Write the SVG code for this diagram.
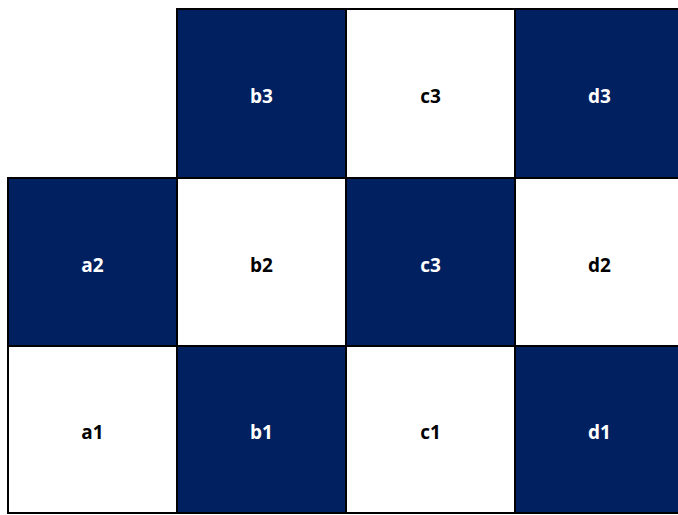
<svg xmlns="http://www.w3.org/2000/svg" width="678" height="515" viewBox="0 0 678 515">
<style>
.d{fill:#002060;stroke:#000;stroke-width:2}
.w{fill:#fff;stroke:#000;stroke-width:2}
.tw{fill:#fff;font-family:"Open Sans","DejaVu Sans",sans-serif;font-weight:bold;font-size:19px;text-anchor:middle}
.tb{fill:#000;font-family:"Open Sans","DejaVu Sans",sans-serif;font-weight:bold;font-size:19px;text-anchor:middle}
</style>
<rect width="678" height="515" fill="#fff"/>
<g id="b3"><rect class="d" x="177" y="9" width="169" height="169"/><text class="tw" x="261.5" y="103">b3</text></g>
<g id="c3top"><rect class="w" x="346" y="9" width="169" height="169"/><text class="tb" x="430.5" y="103">c3</text></g>
<g id="d3"><rect class="d" x="515" y="9" width="169" height="169"/><text class="tw" x="599.5" y="103">d3</text></g>
<g id="a2"><rect class="d" x="8" y="178" width="169" height="168"/><text class="tw" x="92.5" y="272">a2</text></g>
<g id="b2"><rect class="w" x="177" y="178" width="169" height="168"/><text class="tb" x="261.5" y="272">b2</text></g>
<g id="c3"><rect class="d" x="346" y="178" width="169" height="168"/><text class="tw" x="430.5" y="272">c3</text></g>
<g id="d2"><rect class="w" x="515" y="178" width="169" height="168"/><text class="tb" x="599.5" y="272">d2</text></g>
<g id="a1"><rect class="w" x="8" y="346" width="169" height="167"/><text class="tb" x="92.5" y="439">a1</text></g>
<g id="b1"><rect class="d" x="177" y="346" width="169" height="167"/><text class="tw" x="261.5" y="439">b1</text></g>
<g id="c1"><rect class="w" x="346" y="346" width="169" height="167"/><text class="tb" x="430.5" y="439">c1</text></g>
<g id="d1"><rect class="d" x="515" y="346" width="169" height="167"/><text class="tw" x="599.5" y="439">d1</text></g>
<g id="connectors"/>
</svg>
